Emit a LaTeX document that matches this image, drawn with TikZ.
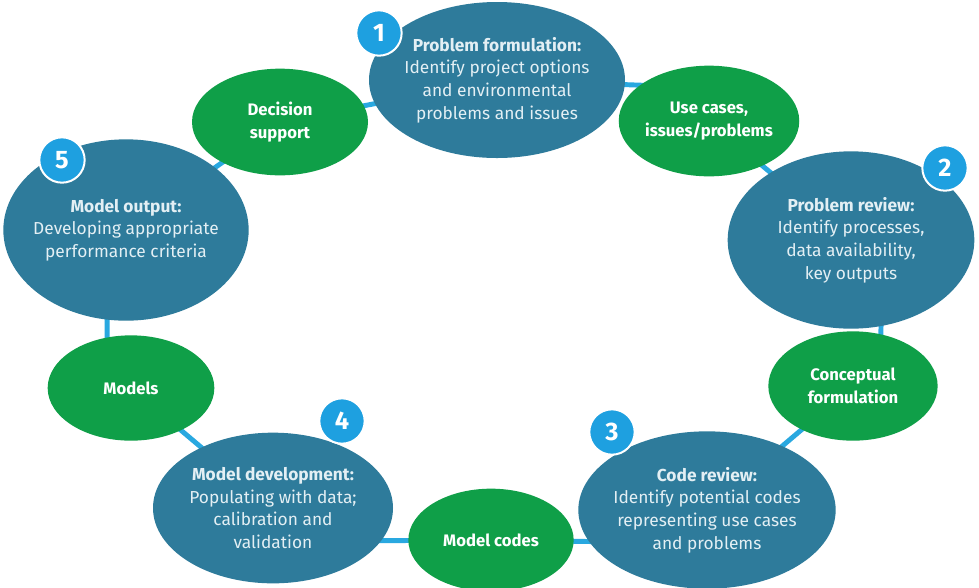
\documentclass[tikz,border=0pt]{standalone}
\usepackage{fontspec}
\setmainfont{Fira Sans}
\usetikzlibrary{shapes.geometric,backgrounds}
\definecolor{ellblue}{HTML}{2E7B9B}
\definecolor{ellgreen}{HTML}{0F9F48}
\definecolor{ringblue}{HTML}{29A8E0}
\definecolor{numblue}{HTML}{1EA0E0}
\definecolor{txtlight}{HTML}{E3EFF4}
\tikzset{
  stagebox/.style={ellipse, fill=ellblue, draw=none, text=txtlight, align=center,
    inner ysep=0pt, inner xsep=-10pt, font=\fontsize{13}{17}\selectfont},
  linkbox/.style={ellipse, fill=ellgreen, draw=none, text=white, align=center,
    inner sep=0pt, font=\fontsize{12.5}{17}\selectfont\bfseries},
  numbadge/.style={circle, fill=numblue, draw=white, line width=1.5pt, text=white,
    inner sep=0pt, minimum size=34pt, font=\fontsize{19}{19}\selectfont\bfseries},
  ring/.style={draw=ringblue, line width=3.7pt}
}
\begin{document}
\begin{tikzpicture}[x=0.75pt,y=-0.75pt]
\useasboundingbox (0,0) rectangle (979,587);
% stages
\node[stagebox, minimum width=192pt, minimum height=117pt] (s1) at (497,80)
  {\textbf{Problem formulation:}\\Identify project options\\and environmental\\problems and issues};
\node[stagebox, minimum width=185pt, minimum height=133pt] (s2) at (851,240)
  {\textbf{Problem review:}\\Identify processes,\\data availability,\\key outputs};
\node[stagebox, minimum width=193pt, minimum height=118pt] (s3) at (707,510)
  {\textbf{Code review:}\\Identify potential codes\\representing use cases\\and problems};
\node[stagebox, minimum width=180pt, minimum height=113pt] (s4) at (273,508)
  {\textbf{Model development:}\\Populating with data;\\calibration and\\validation};
\node[stagebox, minimum width=184pt, minimum height=136pt] (s5) at (126,230)
  {\textbf{Model output:}\\Developing appropriate\\performance criteria};
% links
\node[linkbox, minimum width=132pt, minimum height=80pt] (ds) at (280,122) {Decision\\support};
\node[linkbox, minimum width=135pt, minimum height=83pt] (uc) at (709,121) {Use cases,\\issues/problems};
\node[linkbox, minimum width=127pt, minimum height=82pt] (cf) at (853,386) {Conceptual\\formulation};
\node[linkbox, minimum width=124pt, minimum height=77pt] (mc) at (491,540) {Model codes};
\node[linkbox, minimum width=125pt, minimum height=79pt] (mo) at (131,388) {Models};
% ring
\begin{scope}[on background layer]
\fill[white] (0,0) rectangle (979,587);
\draw[ring] (s1.center) -- ([yshift=25pt]uc.center);
\draw[ring] (uc.center) -- (s2.center);
\draw[ring] ([xshift=24pt]s2.center) -- ([xshift=20pt]cf.center);
\draw[ring] (cf.center) -- (s3.center);
\draw[ring] ([yshift=-25pt]s3.center) -- (mc.center);
\draw[ring] (mc.center) -- ([yshift=-25pt]s4.center);
\draw[ring] (s4.center) -- (mo.center);
\draw[ring] ([xshift=-18pt]mo.center) -- ([xshift=-14pt]s5.center);
\draw[ring] (s5.center) -- (ds.center);
\draw[ring] (ds.center) -- (s1.center);
\end{scope}
% badges
\node[numbadge] (n1) at (379,33) {1};
\node[numbadge] (n2) at (945,168) {2};
\node[numbadge] (n3) at (612,432) {3};
\node[numbadge] (n4) at (342,421) {4};
\node[numbadge] (n5) at (62,160) {5};
\end{tikzpicture}
\end{document}
